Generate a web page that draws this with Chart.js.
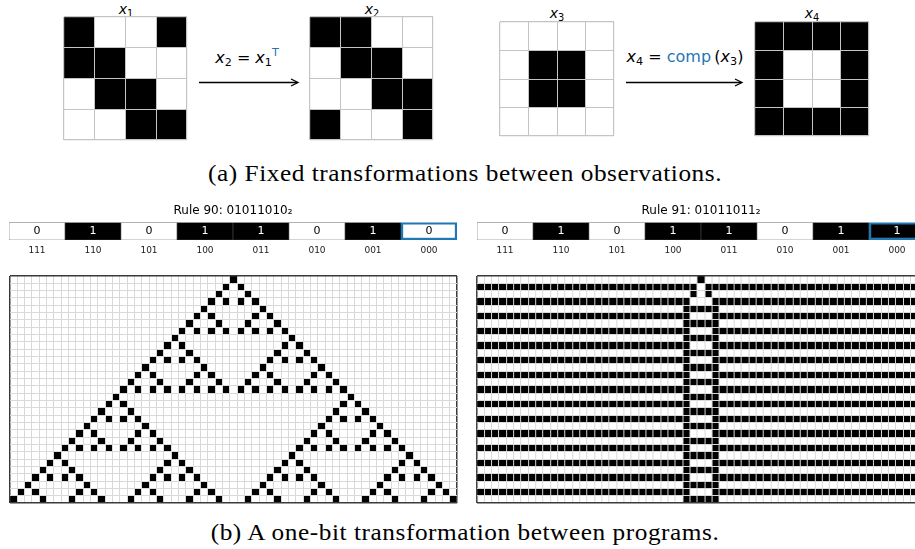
<!DOCTYPE html>
<html>
<head>
<meta charset="utf-8">
<script src="https://cdn.jsdelivr.net/npm/chart.js@4.4.1/dist/chart.umd.min.js"></script>
<style>
  html, body { margin: 0; padding: 0; background: #fff; }
  body { width: 915px; height: 549px; position: relative; overflow: hidden; font-family: "DejaVu Sans", sans-serif; color: #000; }
  canvas { position: absolute; }
  .lbl { position: absolute; transform: translate(-50%, -50%); white-space: nowrap; }
  .m i { font-style: italic; }
  .m sub { font-size: 0.7em; vertical-align: -0.3em; line-height: 0; }
  .m sup { font-size: 0.7em; vertical-align: 0.55em; line-height: 0; color: #1f77b4; }
  .blue { color: #1f77b4; }
  .cap { font-family: "Liberation Serif", serif; font-size: 23px; letter-spacing: 0.5px; transform: translate(-50%, -50%) scaleX(1.1); }
  svg { position: absolute; left: 0; top: 0; }
</style>
</head>
<body>
<svg width="915" height="549">
  <g stroke="#000" stroke-width="1.3" fill="none">
    <line x1="199" y1="82.5" x2="297" y2="82.5"/>
    <polyline points="291,79 298,82.5 291,86"/>
    <line x1="626" y1="82.5" x2="741" y2="82.5"/>
    <polyline points="735,79 742,82.5 735,86"/>
  </g>
</svg>

<div class="lbl m" style="left:126px;top:9px;font-size:14px"><i>x</i><sub>1</sub></div>
<div class="lbl m" style="left:372px;top:9px;font-size:14px"><i>x</i><sub>2</sub></div>
<div class="lbl m" style="left:557px;top:13px;font-size:14px"><i>x</i><sub>3</sub></div>
<div class="lbl m" style="left:812px;top:13px;font-size:14px"><i>x</i><sub>4</sub></div>
<div class="lbl m" style="left:247px;top:57px;font-size:16px"><i>x</i><sub>2</sub> = <i>x</i><sub>1</sub><sup>T</sup></div>
<div class="lbl m" style="left:685px;top:56px;font-size:16px"><i>x</i><sub>4</sub> = <span class="blue">comp</span>&#8201;(<i>x</i><sub>3</sub>)</div>
<div class="lbl cap" style="left:465px;top:174px">(a) Fixed transformations between observations.</div>
<div class="lbl cap" style="left:465px;top:533px">(b) A one-bit transformation between programs.</div>

<canvas id="g1"></canvas>
<canvas id="g2"></canvas>
<canvas id="g3"></canvas>
<canvas id="g4"></canvas>
<canvas id="r90"></canvas>
<canvas id="r91"></canvas>
<canvas id="ca90"></canvas>
<canvas id="ca91"></canvas>

<script>
// observation grids (1 = black)
const x1 = [[1,0,0,1],[1,1,0,0],[0,1,1,0],[0,0,1,1]];
const x2 = [[1,1,0,0],[0,1,1,0],[0,0,1,1],[1,0,0,1]];
const x3 = [[0,0,0,0],[0,1,1,0],[0,1,1,0],[0,0,0,0]];
const x4 = [[1,1,1,1],[1,0,0,1],[1,0,0,1],[1,1,1,1]];

// rule tables
const neighbourhoods = ['111','110','101','100','011','010','001','000'];
const rule90Bits = [0,1,0,1,1,0,1,0];
const rule91Bits = [0,1,0,1,1,0,1,1];
const flipped = '000';

// Rule 90 run: black columns per row (61 columns, 31 rows)
const rule90Rows = [
  [30],
  [29,31],
  [28,32],
  [27,29,31,33],
  [26,34],
  [25,27,33,35],
  [24,28,32,36],
  [23,25,27,29,31,33,35,37],
  [22,38],
  [21,23,37,39],
  [20,24,36,40],
  [19,21,23,25,35,37,39,41],
  [18,26,34,42],
  [17,19,25,27,33,35,41,43],
  [16,20,24,28,32,36,40,44],
  [15,17,19,21,23,25,27,29,31,33,35,37,39,41,43,45],
  [14,46],
  [13,15,45,47],
  [12,16,44,48],
  [11,13,15,17,43,45,47,49],
  [10,18,42,50],
  [9,11,17,19,41,43,49,51],
  [8,12,16,20,40,44,48,52],
  [7,9,11,13,15,17,19,21,39,41,43,45,47,49,51,53],
  [6,22,38,54],
  [5,7,21,23,37,39,53,55],
  [4,8,20,24,36,40,52,56],
  [3,5,7,9,19,21,23,25,35,37,39,41,51,53,55,57],
  [2,10,18,26,34,42,50,58],
  [1,3,9,11,17,19,25,27,33,35,41,43,49,51,57,59],
  [0,4,8,12,16,20,24,28,32,36,40,44,48,52,56,60]
];

// Rule 91 run: black runs [from, to] per row
const rule91Runs = [
  [[30,30]],
  [[0,29],[31,60]],
  [[29,29],[31,31]],
  [[0,28],[32,60]], [[28,32]],
  [[0,28],[32,60]], [[28,32]],
  [[0,28],[32,60]], [[28,32]],
  [[0,28],[32,60]], [[28,32]],
  [[0,28],[32,60]], [[28,32]],
  [[0,28],[32,60]], [[28,32]],
  [[0,28],[32,60]], [[28,32]],
  [[0,28],[32,60]], [[28,32]],
  [[0,28],[32,60]], [[28,32]],
  [[0,28],[32,60]], [[28,32]],
  [[0,28],[32,60]], [[28,32]],
  [[0,28],[32,60]], [[28,32]],
  [[0,28],[32,60]], [[28,32]],
  [[0,28],[32,60]], [[28,32]]
];
const caCols = 61, caRows = 31;

const matrixCols = (m) => m.map(row => row.map((v, i) => v ? i : -1).filter(i => i >= 0));
const runCols = (runs) => runs.map(row => {
  const out = [];
  for (const [a, b] of row) for (let c = a; c <= b; c++) out.push(c);
  return out;
});

function place(id, left, top, w, h) {
  const el = document.getElementById(id);
  el.width = w; el.height = h;
  el.style.left = left + 'px'; el.style.top = top + 'px';
  el.style.width = w + 'px'; el.style.height = h + 'px';
  return el;
}

function gridAxis(max, st) {
  const edge = c => c.index === 0 || c.index === max;
  return {
    type: 'linear', min: 0, max,
    ticks: { display: false, stepSize: 1, autoSkip: false },
    border: { display: false },
    grid: {
      z: 1, drawTicks: false,
      color: c => edge(c) ? st.frame : st.line,
      lineWidth: c => edge(c) ? st.frameWidth : st.lineWidth
    }
  };
}

function gridChart(id, box, rows, nCols, nRows, st) {
  const pts = [];
  rows.forEach((cols, r) => cols.forEach(c => pts.push({ x: c + 0.5, y: r + 0.5 })));
  const cell = c => {
    const s = c.chart.scales.x;
    return Math.abs(s.getPixelForValue(1) - s.getPixelForValue(0)) / Math.SQRT2;
  };
  return new Chart(place(id, ...box), {
    type: 'scatter',
    data: { datasets: [{ data: pts, pointStyle: 'rect', backgroundColor: '#000', borderWidth: 0,
                         pointRadius: cell, pointHoverRadius: cell }] },
    options: {
      responsive: false, animation: false, events: [],
      layout: { padding: 2 },
      plugins: { legend: { display: false }, tooltip: { enabled: false } },
      scales: { x: gridAxis(nCols, st), y: { ...gridAxis(nRows, st), reverse: true } }
    }
  });
}

function ruleChart(id, box, title, bits) {
  const hi = neighbourhoods.indexOf(flipped);
  const cellText = {
    id: 'cellText',
    afterDatasetsDraw(chart) {
      const ctx = chart.ctx;
      ctx.save();
      ctx.font = '11px "DejaVu Sans"';
      ctx.textAlign = 'center';
      ctx.textBaseline = 'middle';
      chart.getDatasetMeta(0).data.forEach((bar, i) => {
        ctx.fillStyle = bits[i] ? '#fff' : '#000';
        ctx.fillText(String(bits[i]), bar.x, (bar.y + bar.base) / 2);
      });
      ctx.restore();
    }
  };
  return new Chart(place(id, ...box), {
    type: 'bar',
    data: {
      labels: neighbourhoods,
      datasets: [{
        data: bits.map(() => 1),
        backgroundColor: bits.map(b => b ? '#000' : '#fff'),
        borderColor: bits.map((b, i) => i === hi ? '#1f77b4' : '#555'),
        borderWidth: bits.map((b, i) => i === hi ? 2.5 : 0.6),
        borderSkipped: false, barPercentage: 1, categoryPercentage: 1
      }]
    },
    options: {
      responsive: false, animation: false, events: [],
      layout: { padding: { top: 2, left: 2, right: 2, bottom: 0 } },
      plugins: {
        legend: { display: false }, tooltip: { enabled: false },
        title: { display: true, text: title, color: '#000', padding: { top: 0, bottom: 4 },
                 font: { family: 'DejaVu Sans', size: 12, weight: 'normal' } }
      },
      scales: {
        x: { grid: { display: false, drawTicks: false }, border: { display: false },
             afterFit: s => { s.height = 18; },
             ticks: { color: '#222', padding: 5, font: { family: 'DejaVu Sans', size: 9 } } },
        y: { display: false, min: 0, max: 1 }
      }
    },
    plugins: [cellText]
  });
}

const small = { line: '#c4c4c4', frame: '#c4c4c4', lineWidth: 1, frameWidth: 1.2 };
const big = { line: '#d9d9d9', frame: '#3a3a3a', lineWidth: 1, frameWidth: 1.5 };

gridChart('g1', [62, 15, 127, 127], matrixCols(x1), 4, 4, small);
gridChart('g2', [308, 15, 127, 127], matrixCols(x2), 4, 4, small);
gridChart('g3', [498, 20, 118, 118], matrixCols(x3), 4, 4, small);
gridChart('g4', [753, 20, 118, 118], matrixCols(x4), 4, 4, small);

ruleChart('r90', [7, 201.6, 452, 56], 'Rule 90: 01011010\u2082', rule90Bits);
ruleChart('r91', [475, 201.6, 452, 56], 'Rule 91: 01011011\u2082', rule91Bits);

gridChart('ca90', [7.5, 274, 451.5, 231], rule90Rows, caCols, caRows, big);
gridChart('ca91', [475, 274, 451.5, 231], runCols(rule91Runs), caCols, caRows, big);
</script>
</body>
</html>
